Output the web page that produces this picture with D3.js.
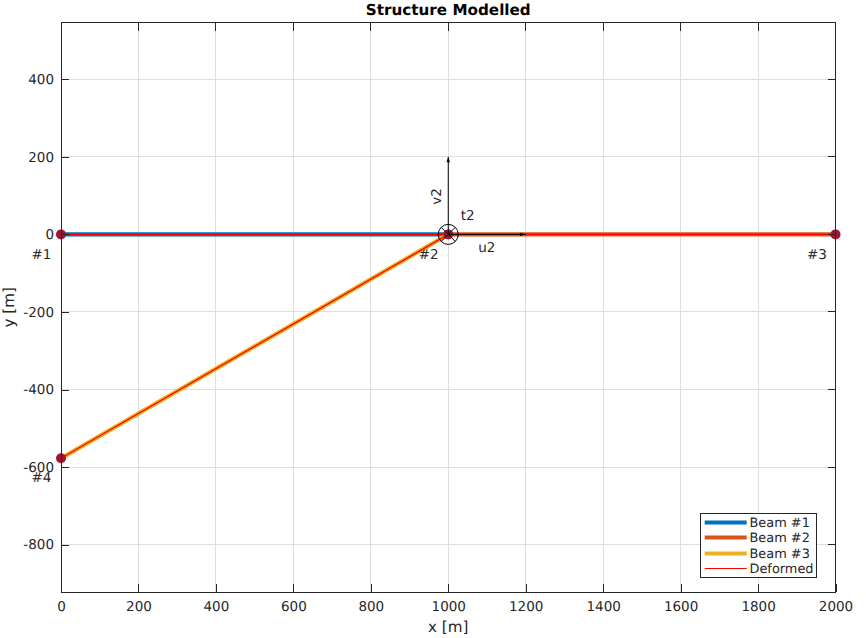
<!DOCTYPE html>
<html><head><meta charset="utf-8">
<script src="https://cdn.jsdelivr.net/npm/d3@7"></script>
<style>html,body{margin:0;padding:0;background:#fff}svg{display:block}text{font-family:"DejaVu Sans",sans-serif;text-rendering:geometricPrecision}</style>
</head><body><div id="c"></div>
<script>
const xTicks=[0,200,400,600,800,1000,1200,1400,1600,1800,2000];
const yTicks=[-800,-600,-400,-200,0,200,400];
const beam1=[[0,0],[1000,0]];
const beam2=[[1000,0],[2000,0]];
const beam3=[[1000,0],[0,-577.35]];
const deformed=[[[0,0],[1000,0]],[[1000,0],[2000,0]],[[1000,0],[0,-577.35]]];
const nodes=[[0,0,"#1"],[1000,0,"#2"],[2000,0,"#3"],[0,-577.35,"#4"]];
const beamNames=["Beam #1","Beam #2","Beam #3"];
const beamColors=["#0072BD","#D95319","#EDB120"];
const W=866,H=638,L=61,R=835.5,T=22.5,B=592;
const FS=13.5,FL=15.2;
const x=d3.scaleLinear().domain([0,2000]).range([L,R]);
const y=d3.scaleLinear().domain([-922.1,546.4]).range([B,T]);
const svg=d3.select("#c").append("svg").attr("width",W).attr("height",H);
const tc="#262626";
const g=svg.append("g");
const grid=g.append("g").attr("shape-rendering","crispEdges");
grid.selectAll(".gx").data(xTicks).join("line").attr("x1",d=>x(d)).attr("x2",d=>x(d)).attr("y1",T).attr("y2",B).attr("stroke","#dfdfdf").attr("stroke-width",1);
grid.selectAll(".gy").data(yTicks).join("line").attr("y1",d=>y(d)).attr("y2",d=>y(d)).attr("x1",L).attr("x2",R).attr("stroke","#dfdfdf").attr("stroke-width",1);
const line=d3.line().x(d=>x(d[0])).y(d=>y(d[1]));
[beam1,beam2,beam3].forEach((b,i)=>g.append("path").attr("d",line(b)).attr("fill","none").attr("stroke",beamColors[i]).attr("stroke-width",4.3));
deformed.forEach(b=>g.append("path").attr("d",line(b)).attr("fill","none").attr("stroke","#ff0000").attr("stroke-width",1.3));
g.selectAll(".n").data(nodes).join("circle").attr("cx",d=>x(d[0])).attr("cy",d=>y(d[1])).attr("r",5).attr("fill","#A2142F");
const lab=[[-19.5,20],[-19.5,20],[-18.5,20],[-19.5,19.5]];
g.selectAll(".nl").data(nodes).join("text").attr("x",d=>x(d[0])).attr("y",d=>y(d[1])).attr("dx",(d,i)=>lab[i][0]).attr("dy",(d,i)=>lab[i][1]+4.5).attr("text-anchor","middle").attr("font-size",FS).attr("fill",tc).text(d=>d[2]);
const ox=x(1000),oy=y(0);
const arrow=(x2,y2)=>{g.append("line").attr("x1",ox).attr("y1",oy).attr("x2",x2).attr("y2",y2).attr("stroke","#000").attr("stroke-width",1);};
arrow(x(1200),oy);arrow(ox,y(200));
g.append("path").attr("d",`M${x(1200)},${oy}l-5.5,-1.7v3.4z`).attr("fill","#000");
g.append("path").attr("d",`M${ox},${y(200)}l-1.7,5.5h3.4z`).attr("fill","#000");
g.append("circle").attr("cx",ox).attr("cy",oy).attr("r",10).attr("fill","none").attr("stroke","#000").attr("stroke-width",1);
const k=7.07;
g.append("path").attr("d",`M${ox-k},${oy-k}L${ox+k},${oy+k}M${ox-k},${oy+k}L${ox+k},${oy-k}`).attr("stroke","#000").attr("stroke-width",1);
g.append("text").attr("x",ox+19.5).attr("y",oy-14).attr("text-anchor","middle").attr("font-size",FS).attr("fill",tc).text("t2");
g.append("text").attr("x",ox+38.5).attr("y",oy+18).attr("text-anchor","middle").attr("font-size",FS).attr("fill",tc).text("u2");
g.append("text").attr("transform",`translate(${ox-7},${oy-38}) rotate(-90)`).attr("text-anchor","middle").attr("font-size",FS).attr("fill",tc).text("v2");
const ax=svg.append("g").attr("transform",`translate(0,${B})`).call(d3.axisBottom(x).tickValues(xTicks).tickSize(-8).tickFormat(d3.format("d")).tickPadding(9));
const ay=svg.append("g").attr("transform",`translate(${L},0)`).call(d3.axisLeft(y).tickValues(yTicks).tickSize(-8).tickFormat(d=>String(d)).tickPadding(7));
[ax,ay].forEach(a=>{a.selectAll("path").remove();a.selectAll("line").attr("stroke",tc).attr("stroke-width",1).attr("shape-rendering","crispEdges");a.selectAll("text").attr("font-size",FS).attr("fill",tc).attr("font-family",'"DejaVu Sans",sans-serif');});
const fr=svg.append("g").attr("shape-rendering","crispEdges");
fr.selectAll(".tt").data(xTicks).join("line").attr("x1",d=>x(d)).attr("x2",d=>x(d)).attr("y1",T).attr("y2",T+8).attr("stroke",tc);
fr.selectAll(".rt").data(yTicks).join("line").attr("y1",d=>y(d)).attr("y2",d=>y(d)).attr("x1",R).attr("x2",R-8).attr("stroke",tc);
fr.append("rect").attr("x",L).attr("y",T).attr("width",R-L).attr("height",B-T).attr("fill","none").attr("stroke",tc).attr("stroke-width",1);
svg.append("text").attr("x",(L+R)/2).attr("y",14.5).attr("text-anchor","middle").attr("font-size",FL).attr("font-weight","bold").attr("fill","#000").text("Structure Modelled");
svg.append("text").attr("x",(L+R)/2).attr("y",632).attr("text-anchor","middle").attr("font-size",FL).attr("fill",tc).text("x [m]");
svg.append("text").attr("transform",`translate(14,${(T+B)/2}) rotate(-90)`).attr("text-anchor","middle").attr("font-size",FL).attr("fill",tc).text("y [m]");
const lg=svg.append("g");
lg.append("rect").attr("x",700.5).attr("y",513.5).attr("width",116).attr("height",64).attr("fill","#fff").attr("stroke",tc).attr("stroke-width",1).attr("shape-rendering","crispEdges");
const names=beamNames.concat(["Deformed"]);
const cols=beamColors.concat(["#ff0000"]);
names.forEach((n,i)=>{const yy=522.5+Math.round(i*15.4);
 lg.append("line").attr("x1",704.7).attr("x2",746.7).attr("y1",yy).attr("y2",yy).attr("stroke",cols[i]).attr("stroke-width",i<3?4:1);
 lg.append("text").attr("x",749.5).attr("y",yy+4.5).attr("font-size",12.9).attr("fill",tc).text(n);});
</script></body></html>
